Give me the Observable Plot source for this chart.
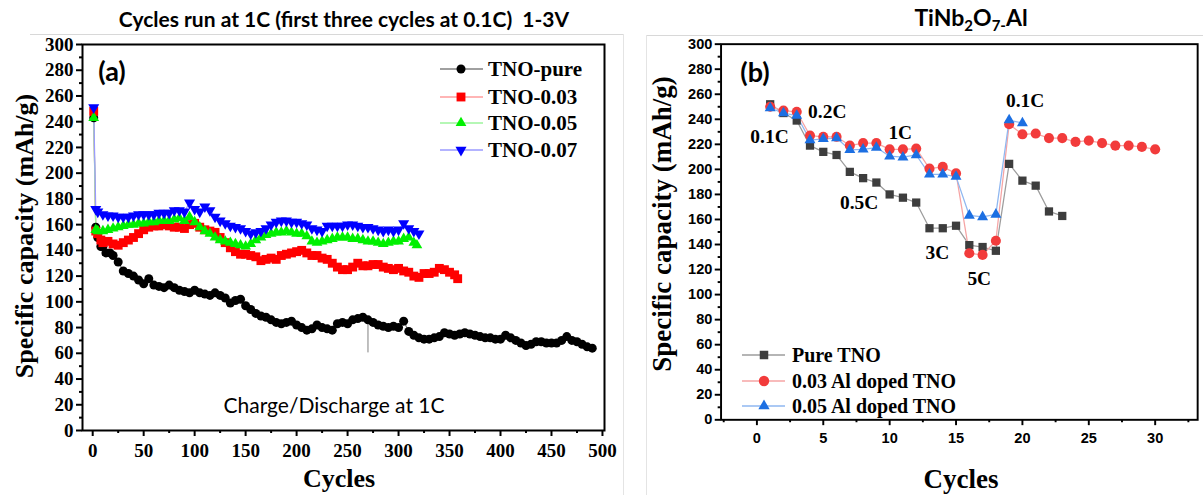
<!DOCTYPE html>
<html><head><meta charset="utf-8">
<script src="https://cdn.jsdelivr.net/npm/d3@7"></script>
<script src="https://cdn.jsdelivr.net/npm/@observablehq/plot@0.6"></script>
<style>
html,body{margin:0;padding:0;background:#fff;overflow:hidden;width:1203px;height:495px}
#root{position:relative;width:1203px;height:495px;overflow:hidden;background:#fff}
.abs{position:absolute;white-space:nowrap;line-height:1}
.serif{font-family:"Liberation Serif","Times New Roman",serif;font-weight:bold;color:#000}
.sans{font-family:Lato,"Open Sans",sans-serif;color:#000}
.svgwrap{position:absolute;top:0}
</style></head><body><div id="root"></div>
<script>
// ---------- Panel (a) data: [cycle, capacity mAh/g] ----------
const tnoPure = [[1,243],[3,158],[5,150],[8,143],[10,143],[13,138],[17,138],[20,136],[25,131],[30,124],[35,122],[40,120],[45,117],[50,114],[55,118],[60,113],[65,112],[70,111],[75,113],[80,111],[85,109],[90,108],[95,107],[100,109],[105,107],[110,106],[115,105],[120,107],[125,105],[130,103],[135,99],[140,101],[145,102],[150,97],[155,94],[160,91],[165,89],[170,88],[175,86],[180,84],[185,83],[190,84],[195,85],[200,82],[205,80],[210,78],[215,79],[220,82],[225,80],[230,79],[235,78],[240,83],[245,84],[250,83],[255,86],[260,87],[265,88],[270,86],[275,84],[280,82],[285,81],[290,80],[295,81],[300,80],[305,85],[310,77],[315,74],[320,72],[325,71],[330,71],[335,72],[340,73],[345,76],[350,75],[355,74],[360,75],[365,76],[370,75],[375,74],[380,73],[385,72],[390,72],[395,71],[400,71],[405,74],[410,72],[415,70],[420,68],[425,66],[430,67],[435,69],[440,69],[445,68],[450,68],[455,68],[460,70],[465,73],[470,70],[475,69],[480,67],[485,65],[490,64]];
const tnoPureDip = [[270,88],[270,61]];
const tno003 = [[1,248],[3,155],[5,153],[8,148],[10,146],[15,147],[20,145],[25,144],[30,146],[35,148],[40,150],[45,153],[50,156],[55,158],[60,159],[65,159],[70,160],[75,159],[80,158],[85,158],[90,157],[95,160],[100,161],[105,158],[110,156],[115,155],[120,154],[125,150],[130,146],[135,142],[140,139],[145,137],[150,137],[155,136],[160,135],[165,132],[170,133],[175,134],[180,133],[185,136],[190,137],[195,138],[200,139],[205,140],[210,138],[215,136],[220,136],[225,134],[230,133],[235,130],[240,127],[245,125],[250,125],[255,127],[260,130],[265,128],[270,128],[275,129],[280,129],[285,127],[290,126],[295,125],[300,126],[305,124],[310,123],[315,120],[320,119],[325,122],[330,122],[335,123],[340,126],[345,125],[350,123],[355,121],[358,118]];
const tno005 = [[1,243],[3,156],[5,155],[10,155],[15,156],[20,157],[25,158],[30,159],[35,160],[40,160],[45,161],[50,161],[55,162],[60,162],[65,163],[70,163],[75,163],[80,164],[85,165],[90,163],[95,166],[100,162],[105,158],[110,155],[115,153],[120,150],[125,148],[130,147],[135,146],[140,145],[145,144],[150,143],[155,145],[160,148],[165,150],[170,152],[175,153],[180,154],[185,154],[190,155],[195,154],[200,153],[205,153],[210,151],[215,147],[220,146],[225,147],[230,148],[235,149],[240,150],[245,150],[250,150],[255,149],[260,149],[265,148],[270,147],[275,147],[280,146],[285,145],[290,146],[295,147],[300,147],[305,149],[310,150],[315,146],[318,144]];
const tno007 = [[1,251],[3,172],[5,170],[10,168],[15,167],[20,167],[25,166],[30,166],[35,166],[40,167],[45,168],[50,168],[55,168],[60,168],[65,169],[70,169],[75,169],[80,171],[85,171],[90,170],[95,177],[100,172],[105,170],[110,174],[115,171],[120,166],[125,163],[130,161],[135,159],[140,158],[145,157],[150,155],[155,153],[160,154],[165,155],[170,157],[175,160],[180,162],[185,163],[190,163],[195,162],[200,162],[205,161],[210,160],[215,157],[220,156],[225,155],[230,159],[235,159],[240,159],[245,159],[250,160],[255,160],[260,159],[265,158],[270,158],[275,157],[280,156],[285,155],[290,156],[295,155],[300,156],[305,161],[310,157],[315,155],[320,153]];
const ticksAx = [0,50,100,150,200,250,300,350,400,450,500];
const ticksAy = [0,20,40,60,80,100,120,140,160,180,200,220,240,260,280,300];

// ---------- Panel (b) data ----------
const bCycles = [1,2,3,4,5,6,7,8,9,10,11,12,13,14,15,16,17,18,19,20,21,22,23,24,25,26,27,28,29,30];
const pureTNO = [252,245,239,219,214,211.5,198,193,189.5,180,177.4,173.5,153,153,155,139.5,138,135,204.4,191,187,166.4,162.8];
const al003TNO = [250,247,246,227,226,226,219,221,221,216,216,216.6,200.6,202,196.8,133,131.7,143,236,228,228.6,225,225,222,223,221,219,219,218,216];
const al005TNO = [249,245,243,223.4,224.4,225,215.6,216,217.4,210.5,209.7,211.5,196,196,194.2,163.2,162,164,239.3,237];
const rateLabels = [
  {cycle:0.95, cap:226, label:"0.1C"},
  {cycle:5.3, cap:245.7, label:"0.2C"},
  {cycle:10.8, cap:229, label:"1C"},
  {cycle:7.7, cap:173.6, label:"0.5C"},
  {cycle:13.6, cap:133, label:"3C"},
  {cycle:16.75, cap:112.6, label:"5C"},
  {cycle:20.2, cap:255, label:"0.1C"}
];
const ticksBx = [0,5,10,15,20,25,30];
const ticksBy = [0,20,40,60,80,100,120,140,160,180,200,220,240,260,280,300];

// ---------- helpers ----------
const triangleDown = {draw(ctx, size){const y=Math.sqrt(size/(3*Math.sqrt(3)));const s=Math.sqrt(3)*y;ctx.moveTo(0,2*y);ctx.lineTo(-s,-y);ctx.lineTo(s,-y);ctx.closePath();}};
const rowsA = arr => arr.map(([c,v]) => ({cycle:c, cap:v}));
const rowsB = arr => arr.map((v,i) => ({cycle:bCycles[i], cap:v}));
const root = document.getElementById("root");
function addDiv(cls, html, css){const d=document.createElement("div");d.className=cls;d.innerHTML=html;Object.assign(d.style,css);root.appendChild(d);return d;}

const SERIF = '"Liberation Serif","Times New Roman",serif';
const ARIAL = '"Liberation Sans",Arial,sans-serif';

// ---------- slide frame lines ----------
addDiv("abs","",{left:"30px",top:"34px",width:"593px",height:"0",borderTop:"1px solid #d8d8d8"});
addDiv("abs","",{left:"623px",top:"34px",width:"0",height:"461px",borderLeft:"1px solid #e4e4e4"});
addDiv("abs","",{left:"646px",top:"35px",width:"557px",height:"0",borderTop:"1px solid #d8d8d8"});
addDiv("abs","",{left:"646px",top:"35px",width:"0",height:"460px",borderLeft:"1px solid #e4e4e4"});

// ---------- Panel (a) ----------
const seriesA = [
  {name:"TNO-pure", data:tnoPure, color:"#000000", line:"#808080", symbol:"circle", r:4.5},
  {name:"TNO-0.03", data:tno003, color:"#ff0000", line:"#ff9c9c", symbol:"square", r:5.0},
  {name:"TNO-0.05", data:tno005, color:"#00f000", line:"#9cf59c", symbol:"triangle", r:4.0},
  {name:"TNO-0.07", data:tno007, color:"#0000ff", line:"#9a9aff", symbol:triangleDown, r:4.1}
];
const marksA = [
  Plot.axisY({ticks:ticksAy, tickSize:6, tickPadding:3, strokeWidth:2, fontSize:19, fontWeight:"bold", fontFamily:SERIF, label:null}),
  Plot.axisY({ticks:d3.range(10,300,20), tickSize:3, strokeWidth:2, tickFormat:()=>"", label:null}),
  Plot.axisX({ticks:ticksAx, tickSize:6, tickPadding:7, strokeWidth:2, fontSize:19, fontWeight:"bold", fontFamily:SERIF, label:null}),
  Plot.axisX({ticks:d3.range(25,500,50), tickSize:3, strokeWidth:2, tickFormat:()=>"", label:null}),
  Plot.line(rowsA(tnoPureDip), {x:"cycle", y:"cap", stroke:"#808080", strokeWidth:1})
];
for (const s of seriesA) marksA.push(Plot.line(rowsA(s.data), {x:"cycle", y:"cap", stroke:s.line, strokeWidth:1.2}));
for (const s of seriesA) marksA.push(Plot.dot(rowsA(s.data), {x:"cycle", y:"cap", symbol:s.symbol, r:s.r, fill:s.color, stroke:"none"}));
marksA.push(Plot.frame({stroke:"#000", strokeWidth:2}));
const plotA = Plot.plot({
  width:620, height:495, marginLeft:82, marginRight:16, marginTop:44, marginBottom:65,
  x:{domain:[-10,502]}, y:{domain:[0,300]},
  style:{background:"transparent", overflow:"visible", color:"#000"},
  marks:marksA
});
const wa = document.createElement("div"); wa.className="svgwrap"; wa.style.left="0px"; wa.appendChild(plotA); root.appendChild(wa);

// ---------- Panel (b) ----------
const seriesB = [
  {name:"Pure TNO", data:pureTNO, color:"#3d3d3d", line:"#9c9c9c", symbol:"square", r:4.8},
  {name:"0.03 Al doped TNO", data:al003TNO, color:"#f23b3b", line:"#f6a4a4", symbol:"circle", r:5.2},
  {name:"0.05 Al doped TNO", data:al005TNO, color:"#1c6fe2", line:"#8fb7f0", symbol:"triangle", r:4.2}
];
const marksB = [
  Plot.axisY({ticks:ticksBy, tickSize:6, tickPadding:3, strokeWidth:2, fontSize:15, fontWeight:"bold", fontFamily:ARIAL, label:null}),
  Plot.axisY({ticks:d3.range(10,300,20), tickSize:3, strokeWidth:2, tickFormat:()=>"", label:null}),
  Plot.axisX({ticks:ticksBx, tickSize:6, tickPadding:7, strokeWidth:2, fontSize:15, fontWeight:"bold", fontFamily:ARIAL, label:null}),
  Plot.axisX({ticks:d3.range(-2.5,33,5), tickSize:3, strokeWidth:2, tickFormat:()=>"", label:null})
];
for (const s of seriesB) marksB.push(Plot.line(rowsB(s.data), {x:"cycle", y:"cap", stroke:s.line, strokeWidth:1.3}));
for (const s of seriesB) marksB.push(Plot.dot(rowsB(s.data), {x:"cycle", y:"cap", symbol:s.symbol, r:s.r, fill:s.color, stroke:"none"}));
marksB.push(Plot.text(rateLabels, {x:"cycle", y:"cap", text:"label", fontSize:20, fontWeight:"bold", fontFamily:SERIF, fill:"#000"}));
marksB.push(Plot.frame({stroke:"#000", strokeWidth:2}));
const plotB = Plot.plot({
  width:580, height:495, marginLeft:83, marginRight:6, marginTop:45, marginBottom:63,
  x:{domain:[-2.7,33.2]}, y:{domain:[0,300]},
  style:{background:"transparent", overflow:"visible", color:"#000"},
  marks:marksB
});
const wb = document.createElement("div"); wb.className="svgwrap"; wb.style.left="640px"; wb.appendChild(plotB); root.appendChild(wb);

// ---------- texts ----------
addDiv("abs sans","Cycles run at 1C (first three cycles at 0.1C)&nbsp; 1-3V",{left:"344px",top:"18px",transform:"translate(-50%,-50%)",fontSize:"21px",fontWeight:"bold"});
addDiv("abs sans","TiNb<sub style='font-size:15px;vertical-align:-5px'>2</sub>O<sub style='font-size:15px;vertical-align:-5px'>7-</sub>Al",{left:"971px",top:"19px",transform:"translate(-50%,-50%)",fontSize:"23px",fontWeight:"bold"});
addDiv("abs serif","Specific capacity (mAh/g)",{left:"25px",top:"236px",transform:"translate(-50%,-50%) rotate(-90deg)",fontSize:"26px"});
addDiv("abs serif","Specific capacity (mAh/g)",{left:"662px",top:"224px",transform:"translate(-50%,-50%) rotate(-90deg)",fontSize:"27px"});
addDiv("abs serif","Cycles",{left:"339px",top:"479px",transform:"translate(-50%,-50%)",fontSize:"26px"});
addDiv("abs serif","Cycles",{left:"961px",top:"479px",transform:"translate(-50%,-50%)",fontSize:"27px"});
addDiv("abs sans","(a)",{left:"112px",top:"70px",transform:"translate(-50%,-50%)",fontSize:"27px",fontWeight:"bold"});
addDiv("abs sans","(b)",{left:"755px",top:"71px",transform:"translate(-50%,-50%)",fontSize:"27px",fontWeight:"bold"});
addDiv("abs sans","Charge/Discharge at 1C",{left:"334px",top:"404px",transform:"translate(-50%,-50%)",fontSize:"21px"});

// ---------- legends ----------
function legendEntry(s, x0, y, w, mx, textLeft, fontSize){
  const svg = d3.create("svg").attr("width", w).attr("height", 20).style("position","absolute").style("left",(x0)+"px").style("top",(y-10)+"px").style("overflow","visible");
  svg.append("line").attr("x1",0).attr("x2",w).attr("y1",10).attr("y2",10).attr("stroke",s.line).attr("stroke-width",1.5);
  const type = typeof s.symbol === "string" ? {circle:d3.symbolCircle, square:d3.symbolSquare, triangle:d3.symbolTriangle}[s.symbol] : s.symbol;
  svg.append("path").attr("transform",`translate(${mx-x0},10)`).attr("d", d3.symbol(type, Math.PI*s.r*s.r)()).attr("fill", s.color);
  root.appendChild(svg.node());
  addDiv("abs serif", s.name, {left:textLeft+"px", top:y+"px", transform:"translateY(-50%)", fontSize:fontSize+"px"});
}
const legAy = [69, 97, 123, 150];
seriesA.forEach((s,i)=>legendEntry(s, 440, legAy[i], 43, 461, 488, 21));
const legBy = [355, 381, 406];
seriesB.forEach((s,i)=>legendEntry(s, 742, legBy[i], 43, 764, 792, 20));
</script></body></html>
